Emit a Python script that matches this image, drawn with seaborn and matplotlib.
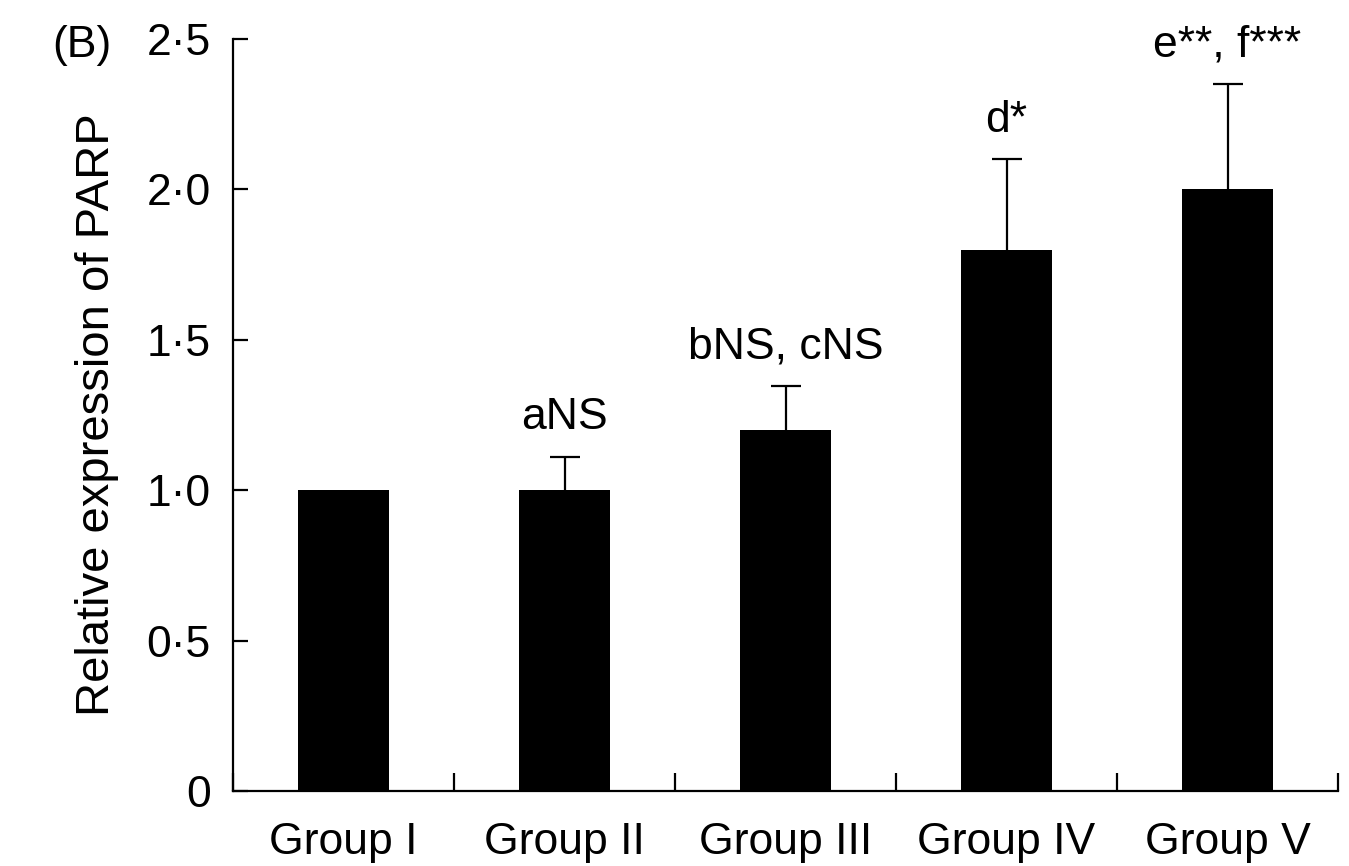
import matplotlib
matplotlib.use("Agg")
import matplotlib.pyplot as plt
import seaborn as sns
import pandas as pd
import numpy as np

groups = ["Group I", "Group II", "Group III", "Group IV", "Group V"]
values = [1.0, 1.0, 1.2, 1.8, 2.0]
errors = [0.0, 0.11, 0.145, 0.30, 0.35]
annotations = ["", "aNS", "bNS, cNS", "d*", "e**, f***"]
ytick_values = [0, 0.5, 1.0, 1.5, 2.0, 2.5]
ytick_labels = ["0", "0\u00b75", "1\u00b70", "1\u00b75", "2\u00b70", "2\u00b75"]

sns.set_theme(style="white")
plt.rcParams["font.family"] = ["Liberation Sans", "DejaVu Sans"]

fig = plt.figure(figsize=(13.49, 8.66), dpi=100)
ax = fig.add_axes([233/1349, 75/866, (1338-233)/1349, (791-39)/866])

df = pd.DataFrame({"group": groups, "value": values})
sns.barplot(data=df, x="group", y="value", color="black", width=0.41,
            errorbar=None, ax=ax, saturation=1, linewidth=0, edgecolor="black")

x = np.arange(len(groups))
for xi, v, e, lab in zip(x, values, errors, annotations):
    if e > 0:
        cont = ax.errorbar(xi, v, yerr=[[0], [e]], fmt="none", ecolor="black",
                           elinewidth=1.6, capsize=11, capthick=1.6)
        caps = cont.lines[1]
        if len(caps) > 1:
            caps[0].set_visible(False)
    if lab:
        ax.annotate(lab, xy=(xi, v + e), xytext=(0, 20), textcoords="offset points",
                    ha="center", va="baseline", fontsize=32, color="black")

ax.set_xlim(-0.5, 4.5)
ax.set_ylim(0, 2.5)
ax.set_yticks(ytick_values)
ax.set_yticklabels(ytick_labels)
ax.set_xticks(x)
ax.set_xticklabels(groups)
ax.set_xticks(np.arange(-0.5, 5.0, 1.0), minor=True)
ax.tick_params(axis="x", which="major", length=0, labelsize=32, pad=22, colors="black")
ax.tick_params(axis="x", which="minor", length=13, width=1.6, direction="in", bottom=True, color="black")
ax.tick_params(axis="y", which="major", length=11, width=1.6, direction="in", left=True,
               labelsize=32, pad=16, colors="black")
ax.set_xlabel("")
ax.set_ylabel("Relative expression of PARP", fontsize=34, color="black", labelpad=20)

for s in ["top", "right"]:
    ax.spines[s].set_visible(False)
for s in ["left", "bottom"]:
    ax.spines[s].set_color("black")
    ax.spines[s].set_linewidth(1.6)

fig.text(52/1349, 1 - 57/866, "(B)", fontsize=32, color="black", ha="left", va="baseline")

fig.savefig("out.png", dpi=100)
